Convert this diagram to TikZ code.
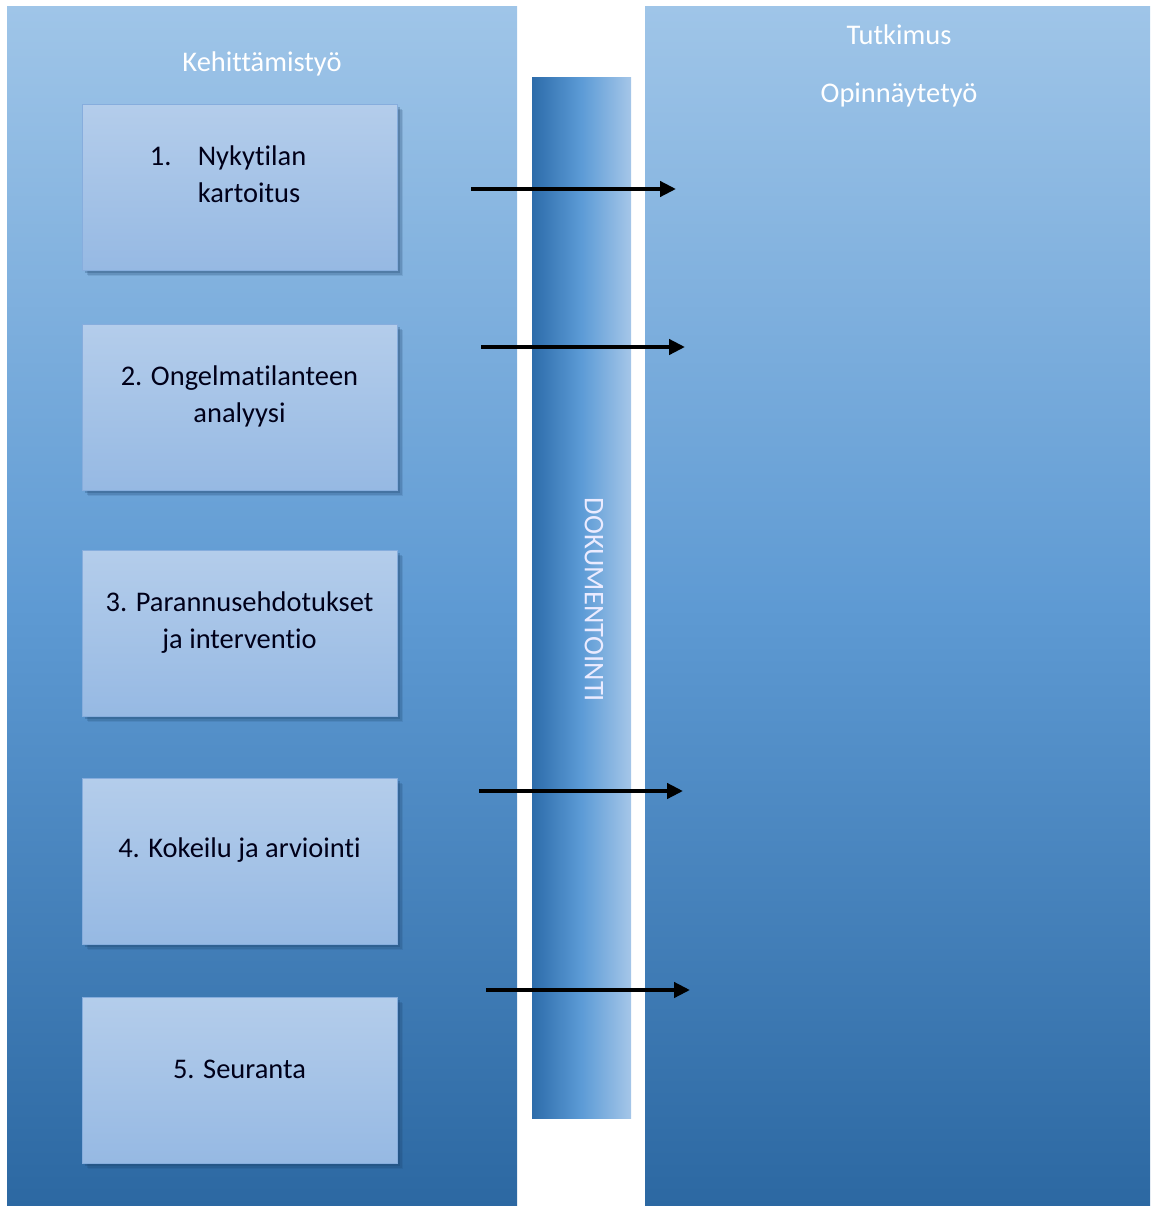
\documentclass[tikz,border=0pt]{standalone}
\usepackage{fontspec}
\setmainfont{Carlito}[Ligatures=NoCommon]
\usetikzlibrary{arrows.meta,shadows}
\definecolor{paneltop}{HTML}{9FC5E8}
\definecolor{panelmid}{HTML}{5E9AD3}
\definecolor{panelbot}{HTML}{2C68A2}
\definecolor{boxtop}{HTML}{B4CDEB}
\definecolor{boxbot}{HTML}{96B9E3}
\definecolor{boxline}{HTML}{86ADDD}
\definecolor{bardark}{HTML}{2D6CAA}
\definecolor{barmid}{HTML}{5C9BD6}
\definecolor{barlight}{HTML}{A5C6E8}
\definecolor{shadowblue}{HTML}{1B3F66}
\begin{document}
\begin{tikzpicture}[x=0.02cm,y=-0.02cm]
\tikzset{
panel/.style={top color=paneltop,bottom color=panelbot,middle color=panelmid},
phase box/.style={rectangle,draw=boxline,line width=0.4pt,top color=boxtop,bottom color=boxbot,
  minimum width=6.3cm,minimum height=3.32cm,
  drop shadow={shadow xshift=3.6pt,shadow yshift=-3.6pt,opacity=0.12,fill=shadowblue},
  drop shadow={shadow xshift=2.8pt,shadow yshift=-2.8pt,opacity=0.18,fill=shadowblue},
  drop shadow={shadow xshift=1.8pt,shadow yshift=-1.8pt,opacity=0.25,fill=shadowblue}},
phase text/.style={align=center,text=black!90!blue,font=\fontsize{16.2}{21.5}\selectfont},
head text/.style={text=white,font=\fontsize{16.2}{19}\selectfont},
doc arrow/.style={line width=2.2pt,-{Triangle[length=9pt,width=8.5pt]}}
}
\useasboundingbox (0,0) rectangle (1150,1206);

% panels and the documentation bar
\shade[panel] (7,7) rectangle (517,1206);
\shade[panel] (645,7) rectangle (1150,1206);
\shade[left color=bardark,right color=barlight,middle color=barmid] (532,78) rectangle (631,1118);

\node[head text] (kehitys) at (262,64) {Kehittämistyö};
\node[head text] (tutkimus) at (899,35) {Tutkimus};
\node[head text] (opinnayte) at (899,95) {Opinnäytetyö};
\node[head text,rotate=-90,text=white!92!blue] (dok) at (594,600) {DOKUMENTOINTI};

% phases
\node[phase box] (b1) at (239.5,187) {};
\node[phase box] (b2) at (239.5,407) {};
\node[phase box] (b3) at (239.5,633) {};
\node[phase box] (b4) at (239.5,861) {};
\node[phase box] (b5) at (239.5,1080) {};

\node[phase text] (t1) at ([xshift=-6.5pt,yshift=6pt]b1.center)
  {\begin{tabular}{@{}l@{\hspace{15pt}}l@{}}1.&Nykytilan\\&kartoitus\end{tabular}};
\node[phase text] (t2) at ([yshift=6pt]b2.center) {2. Ongelmatilanteen\\analyysi};
\node[phase text] (t3) at ([yshift=6pt]b3.center) {3. Parannusehdotukset\\ja interventio};
\node[phase text] (t4) at ([yshift=6pt]b4.center) {4. Kokeilu ja arviointi};
\node[phase text] (t5) at ([yshift=6pt]b5.center) {5. Seuranta};

% arrows over the bar
\coordinate (a1) at (471,189); \coordinate (e1) at (676,189);
\coordinate (a2) at (481,347); \coordinate (e2) at (685,347);
\coordinate (a4) at (479,791); \coordinate (e4) at (683,791);
\coordinate (a5) at (486,990); \coordinate (e5) at (690,990);
\draw[doc arrow] (a1) -- (e1);
\draw[doc arrow] (a2) -- (e2);
\draw[doc arrow] (a4) -- (e4);
\draw[doc arrow] (a5) -- (e5);
\end{tikzpicture}
\end{document}
